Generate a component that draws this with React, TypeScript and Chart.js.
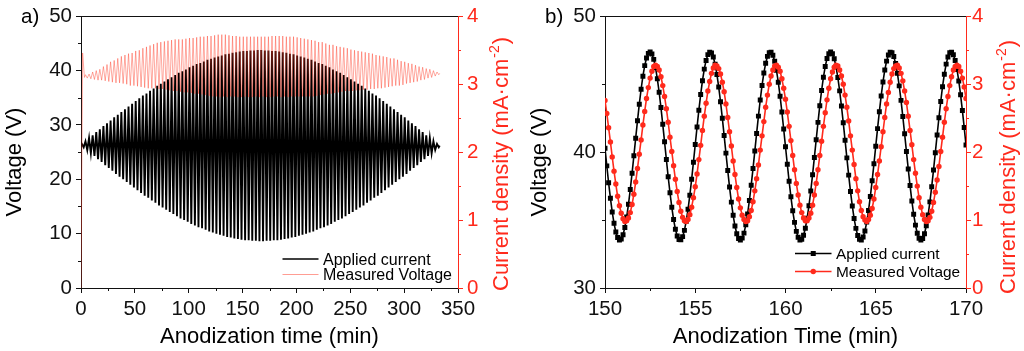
import React, { useEffect, useRef } from 'react';
import { Chart, registerables } from 'chart.js';

Chart.register(...registerables);

const FONT = '"Liberation Sans", Arial, Helvetica, sans-serif';
const RED = '#ff2a1c';
const INK = '#111111';

// ---------------- Panel a ----------------
const timeTicksA = [0, 50, 100, 150, 200, 250, 300, 350];
const timeMinorTicksA = [25, 75, 125, 175, 225, 275, 325];
const voltageTicksA = [0, 10, 20, 30, 40, 50];
const voltageMinorTicksA = [5, 15, 25, 35, 45];
const currentTicks = [0, 1, 2, 3, 4];
const currentMinorTicks = [0.5, 1.5, 2.5, 3.5];

const halfPeriodA = 1.665; // min between successive extrema
const firstExtremumA = 0.8325; // min

const appliedEdgeTimesA = [0, 333];
const appliedEdgeValuesA = [26.2, 26.2];
const appliedPeaksA = [
  26.5, 27.0, 27.6, 28.1, 28.7, 29.2, 29.8, 30.3, 30.8, 31.4,
  31.9, 32.4, 32.9, 33.4, 33.9, 34.4, 34.9, 35.4, 35.8, 36.3,
  36.7, 37.2, 37.6, 38.0, 38.4, 38.8, 39.2, 39.6, 39.9, 40.2,
  40.6, 40.9, 41.2, 41.4, 41.7, 42.0, 42.2, 42.4, 42.6, 42.8,
  43.0, 43.1, 43.3, 43.4, 43.5, 43.6, 43.6, 43.7, 43.7, 43.8,
  43.8, 43.7, 43.7, 43.6, 43.6, 43.5, 43.4, 43.3, 43.1, 43.0,
  42.8, 42.6, 42.4, 42.2, 42.0, 41.7, 41.4, 41.2, 40.9, 40.6,
  40.2, 39.9, 39.6, 39.2, 38.8, 38.4, 38.0, 37.6, 37.2, 36.7,
  36.3, 35.8, 35.4, 34.9, 34.4, 33.9, 33.4, 32.9, 32.4, 31.9,
  31.4, 30.8, 30.3, 29.8, 29.2, 28.7, 28.1, 27.6, 27.0, 26.5,
];
const appliedTroughsA = [
  25.9, 25.4, 24.8, 24.3, 23.7, 23.2, 22.6, 22.1, 21.6, 21.0,
  20.5, 20.0, 19.5, 19.0, 18.5, 18.0, 17.5, 17.0, 16.6, 16.1,
  15.7, 15.2, 14.8, 14.4, 14.0, 13.6, 13.2, 12.8, 12.5, 12.2,
  11.8, 11.5, 11.2, 11.0, 10.7, 10.4, 10.2, 10.0, 9.8, 9.6,
  9.4, 9.3, 9.1, 9.0, 8.9, 8.8, 8.8, 8.7, 8.7, 8.6,
  8.6, 8.7, 8.7, 8.8, 8.8, 8.9, 9.0, 9.1, 9.3, 9.4,
  9.6, 9.8, 10.0, 10.2, 10.4, 10.7, 11.0, 11.2, 11.5, 11.8,
  12.2, 12.5, 12.8, 13.2, 13.6, 14.0, 14.4, 14.8, 15.2, 15.7,
  16.1, 16.6, 17.0, 17.5, 18.0, 18.5, 19.0, 19.5, 20.0, 20.5,
  21.0, 21.6, 22.1, 22.6, 23.2, 23.7, 24.3, 24.8, 25.4, 25.9,
];

const measuredLeadTimesA = [0, 1.5, 3.2];
const measuredLeadValuesA = [0, 3.46, 3.1];
const measuredEndTimeA = 333;
const measuredEndValueA = 3.16;
const measuredPeaksA = [
  3.14, 3.15, 3.18, 3.20, 3.22, 3.26, 3.29, 3.33, 3.35, 3.38,
  3.41, 3.43, 3.45, 3.46, 3.49, 3.50, 3.53, 3.55, 3.57, 3.59,
  3.61, 3.62, 3.63, 3.64, 3.65, 3.66, 3.66, 3.66, 3.67, 3.68,
  3.68, 3.69, 3.70, 3.70, 3.71, 3.71, 3.72, 3.73, 3.73, 3.73,
  3.72, 3.71, 3.71, 3.70, 3.70, 3.70, 3.70, 3.70, 3.70, 3.70,
  3.70, 3.70, 3.71, 3.71, 3.71, 3.71, 3.70, 3.70, 3.70, 3.69,
  3.68, 3.67, 3.66, 3.65, 3.64, 3.62, 3.62, 3.60, 3.58, 3.58,
  3.56, 3.55, 3.54, 3.53, 3.51, 3.50, 3.49, 3.48, 3.47, 3.46,
  3.45, 3.43, 3.42, 3.41, 3.40, 3.38, 3.38, 3.36, 3.34, 3.33,
  3.31, 3.30, 3.28, 3.26, 3.25, 3.23, 3.22, 3.20, 3.18,
];
const measuredTroughsA = [
  3.09, 3.08, 3.07, 3.06, 3.06, 3.05, 3.04, 3.03, 3.02, 3.02,
  3.01, 3.00, 2.98, 2.98, 2.97, 2.96, 2.95, 2.94, 2.94, 2.94,
  2.93, 2.93, 2.92, 2.91, 2.90, 2.90, 2.89, 2.88, 2.88, 2.87,
  2.86, 2.86, 2.85, 2.84, 2.83, 2.82, 2.82, 2.81, 2.82, 2.81,
  2.82, 2.82, 2.81, 2.81, 2.82, 2.81, 2.81, 2.82, 2.81, 2.82,
  2.81, 2.81, 2.82, 2.82, 2.81, 2.82, 2.81, 2.82, 2.82, 2.82,
  2.82, 2.82, 2.82, 2.82, 2.83, 2.84, 2.85, 2.86, 2.86, 2.87,
  2.88, 2.89, 2.90, 2.90, 2.90, 2.91, 2.91, 2.92, 2.92, 2.93,
  2.93, 2.94, 2.94, 2.95, 2.96, 2.97, 2.98, 2.98, 2.99, 3.01,
  3.02, 3.03, 3.04, 3.06, 3.07, 3.09, 3.10, 3.12, 3.14,
];

// ---------------- Panel b ----------------
const timeTicksB = [150, 155, 160, 165, 170];
const timeMinorTicksB = [152.5, 157.5, 162.5, 167.5];
const voltageTicksB = [30, 40, 50];
const voltageMinorTicksB = [35, 45];
const timeStartB = 150;
const timeStepB = 0.1;

const appliedB = [
  40.28, 38.99, 37.75, 36.61, 35.60, 34.76, 34.12, 33.71, 33.54, 33.61,
  33.92, 34.46, 35.22, 36.16, 37.25, 38.45, 39.73, 41.03, 42.31, 43.53,
  44.63, 45.59, 46.37, 46.93, 47.27, 47.37, 47.22, 46.83, 46.22, 45.40,
  44.41, 43.28, 42.05, 40.76, 39.46, 38.19, 37.01, 35.95, 35.04, 34.33,
  33.83, 33.57, 33.55, 33.78, 34.24, 34.92, 35.79, 36.83, 38.00, 39.26,
  40.56, 41.85, 43.09, 44.24, 45.26, 46.11, 46.75, 47.18, 47.36, 47.30,
  47.00, 46.47, 45.72, 44.79, 43.71, 42.50, 41.23, 39.93, 38.65, 37.43,
  36.32, 35.35, 34.56, 33.99, 33.64, 33.53, 33.67, 34.04, 34.65, 35.45,
  36.44, 37.57, 38.79, 40.08, 41.38, 42.65, 43.84, 44.91, 45.82, 46.54,
  47.05, 47.32, 47.35, 47.14, 46.69, 46.02, 45.15, 44.12, 42.95, 41.70,
  40.40, 39.11, 37.86, 36.71, 35.68, 34.83, 34.17, 33.74, 33.54, 33.59,
  33.88, 34.40, 35.14, 36.06, 37.14, 38.34, 39.61, 40.91, 42.19, 43.42,
  44.54, 45.51, 46.30, 46.89, 47.25, 47.37, 47.24, 46.88, 46.29, 45.49,
  44.51, 43.39, 42.16, 40.88, 39.58, 38.31, 37.11, 36.04, 35.12, 34.39,
  33.87, 33.59, 33.54, 33.75, 34.19, 34.85, 35.71, 36.73, 37.89, 39.14,
  40.44, 41.73, 42.98, 44.14, 45.17, 46.04, 46.70, 47.15, 47.35, 47.32,
  47.04, 46.53, 45.80, 44.88, 43.81, 42.62, 41.35, 40.05, 38.76, 37.54,
  36.41, 35.43, 34.63, 34.03, 33.66, 33.53, 33.64, 34.00, 34.58, 35.37,
  36.34, 37.46, 38.68, 39.96, 41.26, 42.53, 43.73, 44.82, 45.74, 46.48,
  47.01, 47.31, 47.36, 47.17, 46.74, 46.09, 45.24, 44.22, 43.06, 41.82,
  40.52,
];

const measuredB = [
  2.76, 2.57, 2.36, 2.15, 1.93, 1.72, 1.53, 1.35, 1.21, 1.10,
  1.02, 0.98, 0.99, 1.03, 1.11, 1.23, 1.38, 1.56, 1.76, 1.97,
  2.18, 2.40, 2.60, 2.79, 2.95, 3.09, 3.19, 3.26, 3.28, 3.26,
  3.21, 3.11, 2.98, 2.82, 2.64, 2.44, 2.22, 2.01, 1.80, 1.60,
  1.42, 1.26, 1.13, 1.04, 0.99, 0.98, 1.01, 1.08, 1.19, 1.33,
  1.49, 1.68, 1.89, 2.10, 2.32, 2.53, 2.72, 2.90, 3.04, 3.16,
  3.24, 3.28, 3.27, 3.23, 3.15, 3.03, 2.89, 2.71, 2.51, 2.30,
  2.09, 1.87, 1.67, 1.48, 1.31, 1.18, 1.07, 1.01, 0.98, 0.99,
  1.05, 1.14, 1.27, 1.43, 1.61, 1.81, 2.03, 2.24, 2.45, 2.66,
  2.84, 3.00, 3.12, 3.21, 3.27, 3.28, 3.25, 3.19, 3.08, 2.94,
  2.78, 2.59, 2.38, 2.17, 1.95, 1.74, 1.54, 1.37, 1.22, 1.11,
  1.03, 0.99, 0.99, 1.03, 1.10, 1.22, 1.37, 1.54, 1.74, 1.95,
  2.16, 2.38, 2.58, 2.77, 2.94, 3.08, 3.18, 3.25, 3.28, 3.27,
  3.21, 3.12, 3.00, 2.84, 2.66, 2.46, 2.24, 2.03, 1.82, 1.61,
  1.43, 1.27, 1.14, 1.05, 1.00, 0.98, 1.01, 1.07, 1.17, 1.31,
  1.48, 1.67, 1.87, 2.08, 2.30, 2.51, 2.71, 2.88, 3.03, 3.15,
  3.23, 3.27, 3.28, 3.24, 3.16, 3.05, 2.90, 2.73, 2.53, 2.32,
  2.11, 1.89, 1.69, 1.50, 1.33, 1.19, 1.08, 1.01, 0.98, 0.99,
  1.04, 1.13, 1.26, 1.41, 1.59, 1.79, 2.01, 2.22, 2.44, 2.64,
  2.82, 2.98, 3.11, 3.21, 3.26, 3.28, 3.26, 3.19, 3.09, 2.96,
  2.79,
];

// ---------------- helpers ----------------
type Pt = { x: number; y: number };

function zigzag(peaks: number[], troughs: number[], firstCycle: number): Pt[] {
  const pts: Pt[] = [];
  for (let i = 0; i < peaks.length; i++) {
    const c = i + firstCycle;
    pts.push({ x: firstExtremumA + 2 * c * halfPeriodA, y: peaks[i] });
    pts.push({ x: firstExtremumA + (2 * c + 1) * halfPeriodA, y: troughs[i] });
  }
  return pts;
}

const appliedPtsA: Pt[] = [
  { x: appliedEdgeTimesA[0], y: appliedEdgeValuesA[0] },
  ...zigzag(appliedPeaksA, appliedTroughsA, 0),
  { x: appliedEdgeTimesA[1], y: appliedEdgeValuesA[1] },
];
const measuredPtsA: Pt[] = [
  ...measuredLeadTimesA.map((t, i) => ({ x: t, y: measuredLeadValuesA[i] })),
  ...zigzag(measuredPeaksA, measuredTroughsA, 1),
  { x: measuredEndTimeA, y: measuredEndValueA },
];
const timeOfB = (i: number) => Math.round((timeStartB + i * timeStepB) * 100) / 100;
const appliedPtsB: Pt[] = appliedB.map((v, i) => ({ x: timeOfB(i), y: v }));
const measuredPtsB: Pt[] = measuredB.map((v, i) => ({ x: timeOfB(i), y: v }));

type LegendRow = { y: number; text: string; color: string; width: number; marker?: 'rect' | 'circle' };
type Deco = {
  tag: string; tagX: number; tagY: number;
  xTitle: string; xTitleY: number;
  yTitleX: number; yTitleY: number;
  rTitleX: number; rTitleY: number;
  xMinor: number[]; yMinor: number[]; rMinor: number[];
  legendX0: number; legendX1: number; legendTextX: number; legendSize: number;
  rows: LegendRow[];
};

function decoPlugin(d: Deco) {
  return {
    id: 'deco',
    afterDraw(chart: any) {
      const ctx: CanvasRenderingContext2D = chart.ctx;
      const { left, right, top, bottom } = chart.chartArea;
      const xs = chart.scales.x, ys = chart.scales.y, rs = chart.scales.y1;
      ctx.save();
      // top frame line
      ctx.lineWidth = 1;
      ctx.strokeStyle = INK;
      ctx.beginPath();
      ctx.moveTo(left, Math.round(top) + 0.5);
      ctx.lineTo(right, Math.round(top) + 0.5);
      ctx.stroke();
      // minor ticks
      ctx.beginPath();
      for (const v of d.xMinor) {
        const px = Math.round(xs.getPixelForValue(v)) + 0.5;
        ctx.moveTo(px, bottom);
        ctx.lineTo(px, bottom + 3);
      }
      for (const v of d.yMinor) {
        const py = Math.round(ys.getPixelForValue(v)) + 0.5;
        ctx.moveTo(left - 3, py);
        ctx.lineTo(left, py);
      }
      ctx.stroke();
      ctx.strokeStyle = RED;
      ctx.beginPath();
      for (const v of d.rMinor) {
        const py = Math.round(rs.getPixelForValue(v)) + 0.5;
        ctx.moveTo(right, py);
        ctx.lineTo(right + 3, py);
      }
      ctx.stroke();

      // panel tag
      ctx.fillStyle = '#000';
      ctx.font = `20.5px ${FONT}`;
      ctx.textAlign = 'left';
      ctx.textBaseline = 'alphabetic';
      ctx.fillText(d.tag, d.tagX, d.tagY);

      // x title
      ctx.font = `22px ${FONT}`;
      ctx.textAlign = 'center';
      ctx.fillText(d.xTitle, (left + right) / 2, d.xTitleY);

      // left title
      ctx.save();
      ctx.translate(d.yTitleX, d.yTitleY);
      ctx.rotate(-Math.PI / 2);
      ctx.textAlign = 'center';
      ctx.fillText('Voltage (V)', 0, 0);
      ctx.restore();

      // right title with superscript
      ctx.save();
      ctx.translate(d.rTitleX, d.rTitleY);
      ctx.rotate(-Math.PI / 2);
      ctx.fillStyle = RED;
      ctx.textAlign = 'left';
      const main = 'Current density (mA\u00b7cm';
      ctx.font = `22px ${FONT}`;
      ctx.fillText(main, 0, 0);
      let x = ctx.measureText(main).width + 1;
      ctx.font = `14px ${FONT}`;
      ctx.fillText('-2', x, -9);
      x += ctx.measureText('-2').width + 1;
      ctx.font = `22px ${FONT}`;
      ctx.fillText(')', x, 0);
      ctx.restore();

      // legend
      for (const r of d.rows) {
        ctx.strokeStyle = r.color;
        ctx.lineWidth = r.width;
        ctx.beginPath();
        ctx.moveTo(d.legendX0, r.y);
        ctx.lineTo(d.legendX1, r.y);
        ctx.stroke();
        const cx = (d.legendX0 + d.legendX1) / 2;
        if (r.marker === 'rect') {
          ctx.fillStyle = r.color;
          ctx.fillRect(cx - 2.5, r.y - 2.5, 5, 5);
        } else if (r.marker === 'circle') {
          ctx.fillStyle = r.color;
          ctx.beginPath();
          ctx.arc(cx, r.y, 2.7, 0, Math.PI * 2);
          ctx.fill();
        }
        ctx.fillStyle = '#000';
        ctx.font = `${d.legendSize}px ${FONT}`;
        ctx.textAlign = 'left';
        ctx.textBaseline = 'alphabetic';
        ctx.fillText(r.text, d.legendTextX, r.y + d.legendSize * 0.36);
      }
      ctx.restore();
    },
  };
}

function axis(color: string, pad: number, ticks: number[], fit: (s: any) => void, extra: any) {
  return {
    type: 'linear',
    grid: { drawOnChartArea: false, drawTicks: true, tickLength: 5, color, tickColor: color, lineWidth: 1 },
    border: { display: true, color, width: 1 },
    ticks: { color, padding: pad, font: { family: FONT, size: 20.5 }, autoSkip: false, maxRotation: 0, minRotation: 0 },
    afterBuildTicks: (s: any) => { s.ticks = ticks.map((value) => ({ value })); },
    afterFit: fit,
    ...extra,
  };
}

function buildA(canvas: HTMLCanvasElement) {
  return new Chart(canvas, {
    type: 'line',
    data: {
      datasets: [
        { label: 'Measured Voltage', data: measuredPtsA, yAxisID: 'y1', borderColor: 'rgba(255,60,40,0.55)', borderWidth: 0.8, pointRadius: 0, order: 0, tension: 0 },
        { label: 'Applied current', data: appliedPtsA, yAxisID: 'y', borderColor: '#000', borderWidth: 1.9, pointRadius: 0, order: 1, tension: 0 },
      ],
    } as any,
    options: {
      animation: false,
      responsive: false,
      devicePixelRatio: 1,
      events: [],
      parsing: false,
      layout: { padding: { top: 16, left: 0, right: 0, bottom: 0 } },
      plugins: { legend: { display: false }, tooltip: { enabled: false }, title: { display: false } },
      scales: {
        x: axis(INK, 4, timeTicksA, (s) => { s.height = 63; }, { position: 'bottom', min: 0, max: 350 }),
        y: axis(INK, 4, voltageTicksA, (s) => { s.width = 81; }, { position: 'left', min: 0, max: 50 }),
        y1: axis(RED, 4, currentTicks, (s) => { s.width = 72; }, { position: 'right', min: 0, max: 4 }),
      },
    } as any,
    plugins: [decoPlugin({
      tag: 'a)', tagX: 21, tagY: 23,
      xTitle: 'Anodization time (min)', xTitleY: 343,
      yTitleX: 21, yTitleY: 162,
      rTitleX: 508, rTitleY: 291,
      xMinor: timeMinorTicksA, yMinor: voltageMinorTicksA, rMinor: currentMinorTicks,
      legendX0: 282.5, legendX1: 318.5, legendTextX: 323, legendSize: 16,
      rows: [
        { y: 259, text: 'Applied current', color: '#000', width: 1.6 },
        { y: 274.5, text: 'Measured Voltage', color: 'rgba(255,60,40,0.5)', width: 1 },
      ],
    })],
  });
}

function buildB(canvas: HTMLCanvasElement) {
  return new Chart(canvas, {
    type: 'line',
    data: {
      datasets: [
        { label: 'Measured Voltage', data: measuredPtsB, yAxisID: 'y1', borderColor: RED, backgroundColor: RED, borderWidth: 1.6, pointStyle: 'circle', pointRadius: 2.7, pointBorderWidth: 0, order: 0, tension: 0 },
        { label: 'Applied current', data: appliedPtsB, yAxisID: 'y', borderColor: '#000', backgroundColor: '#000', borderWidth: 1.6, pointStyle: 'rect', pointRadius: 3.5, pointBorderWidth: 0, order: 1, tension: 0 },
      ],
    } as any,
    options: {
      animation: false,
      responsive: false,
      devicePixelRatio: 1,
      events: [],
      parsing: false,
      layout: { padding: { top: 16, left: 0, right: 0, bottom: 0 } },
      plugins: { legend: { display: false }, tooltip: { enabled: false }, title: { display: false } },
      scales: {
        x: axis(INK, 4, timeTicksB, (s) => { s.height = 63; }, { position: 'bottom', min: 150, max: 170 }),
        y: axis(INK, 4, voltageTicksB, (s) => { s.width = 93; }, { position: 'left', min: 30, max: 50 }),
        y1: axis(RED, 1, currentTicks, (s) => { s.width = 58; }, { position: 'right', min: 0, max: 4 }),
      },
    } as any,
    plugins: [decoPlugin({
      tag: 'b)', tagX: 33, tagY: 23,
      xTitle: 'Anodization Time (min)', xTitleY: 343,
      yTitleX: 34, yTitleY: 162,
      rTitleX: 503, rTitleY: 294,
      xMinor: timeMinorTicksB, yMinor: voltageMinorTicksB, rMinor: currentMinorTicks,
      legendX0: 283, legendX1: 319.5, legendTextX: 324, legendSize: 15.4,
      rows: [
        { y: 253.5, text: 'Applied current', color: '#000', width: 1.5, marker: 'rect' },
        { y: 271.5, text: 'Measured Voltage', color: RED, width: 1.5, marker: 'circle' },
      ],
    })],
  });
}

function ChartCanvas({ left, width, build }: { left: number; width: number; build: (c: HTMLCanvasElement) => Chart }) {
  const ref = useRef<HTMLCanvasElement>(null);
  useEffect(() => {
    const chart = build(ref.current as HTMLCanvasElement);
    return () => chart.destroy();
  }, []);
  return (
    <canvas
      ref={ref}
      width={width}
      height={351}
      style={{ position: 'absolute', left, top: 0, width, height: 351 }}
    />
  );
}

export default function App() {
  Chart.defaults.font.family = FONT;
  return (
    <div style={{ position: 'fixed', left: 0, top: 0, width: 1024, height: 351, background: '#fff', overflow: 'hidden' }}>
      <ChartCanvas left={0} width={530} build={buildA} />
      <ChartCanvas left={512} width={512} build={buildB} />
    </div>
  );
}
